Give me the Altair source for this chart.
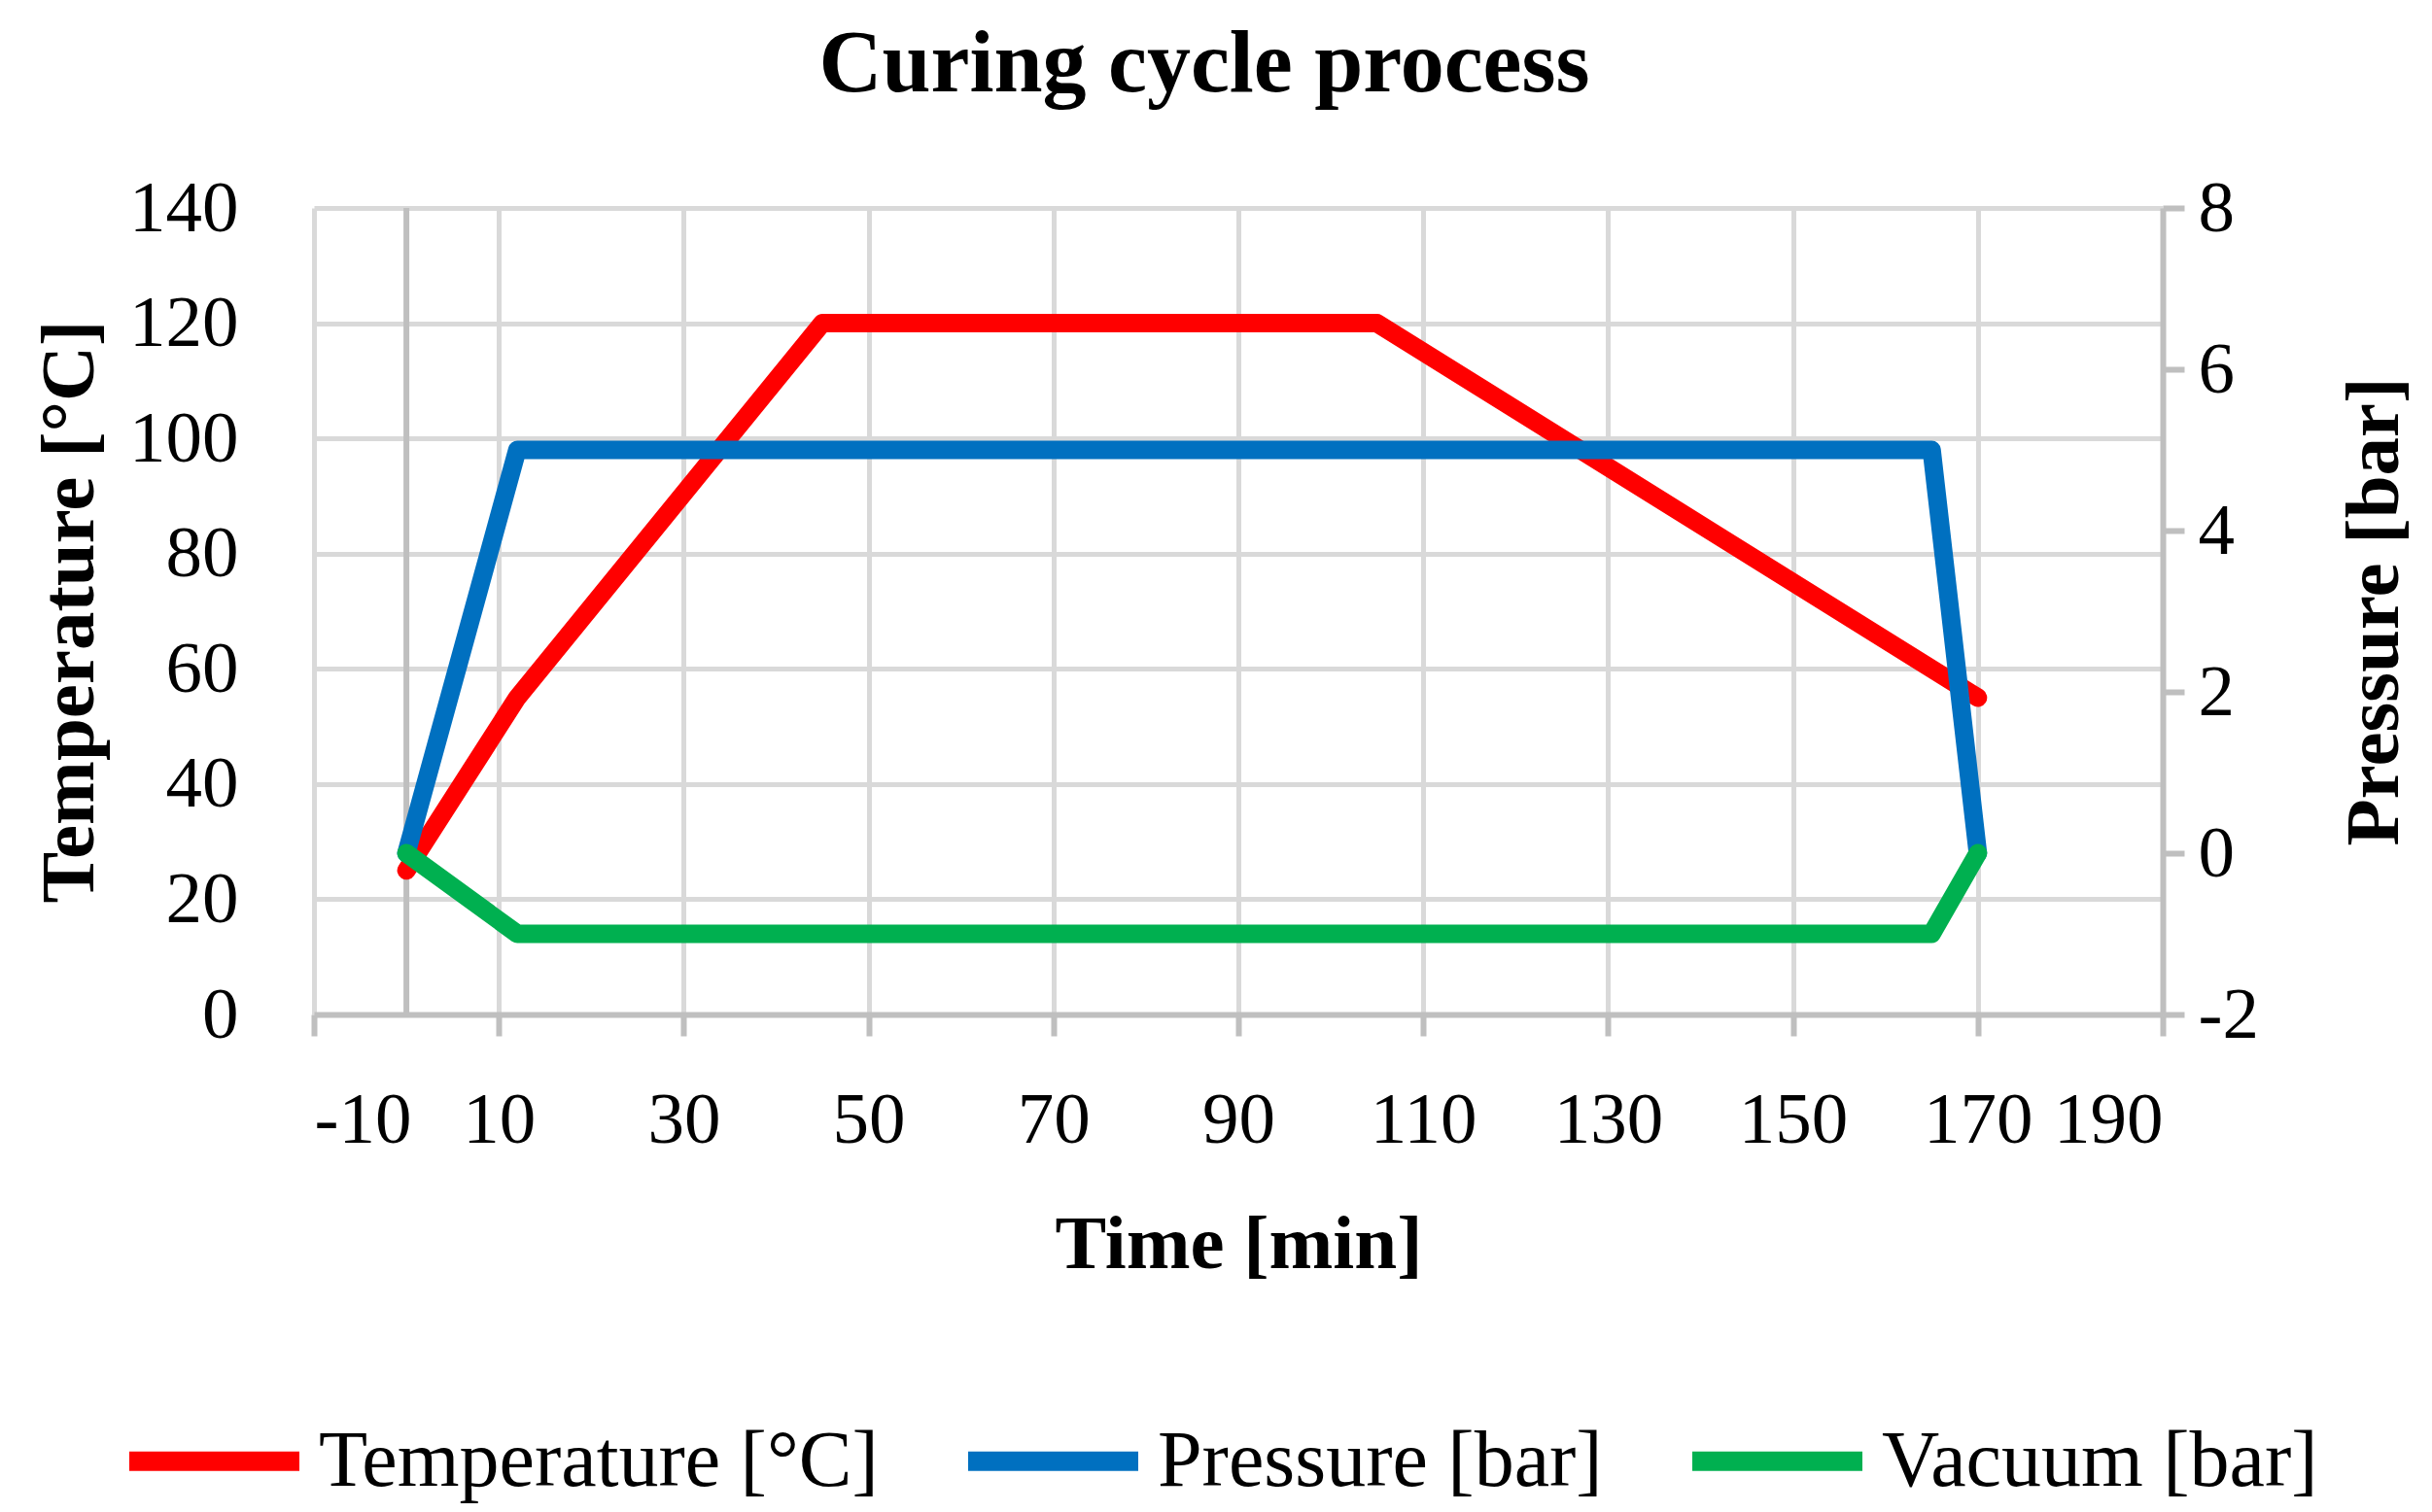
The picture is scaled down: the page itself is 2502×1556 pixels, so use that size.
import pandas as pd
import altair as alt

# curing cycle
time_temp = [0, 12, 45, 105, 170]
temperature = [25, 55, 120, 120, 55]
time_press = [0, 12, 165, 170]
pressure = [0, 5, 5, 0]
time_vac = [0, 12, 165, 170]
vacuum = [0, -1, -1, 0]

series = ['Temperature [°C]', 'Pressure [bar]', 'Vacuum [bar]']
colors = ['#FF0000', '#0070C0', '#00B050']
x_ticks = list(range(-10, 191, 20))
temp_ticks = list(range(0, 141, 20))
press_ticks = list(range(-2, 9, 2))

df_temp = pd.DataFrame({'time': time_temp, 'value': temperature, 'series': series[0]})
df_bar = pd.concat([
    pd.DataFrame({'time': time_press, 'value': pressure, 'series': series[1]}),
    pd.DataFrame({'time': time_vac, 'value': vacuum, 'series': series[2]}),
], ignore_index=True)
df_zero = pd.DataFrame({'time': [0]})

font = 'Liberation Serif'
grid_gray = '#d9d9d9'
axis_gray = '#bfbfbf'
# plain hyphen for negatives, like the original
hyphen_labels = 'toString(datum.value)'

x_enc = alt.X('time:Q', scale=alt.Scale(domain=[-10, 190], nice=False, zero=False),
              axis=alt.Axis(title='Time [min]', values=x_ticks, grid=True,
                            gridColor=grid_gray, gridWidth=5,
                            domainColor=axis_gray, domainWidth=6,
                            tickColor=axis_gray, tickWidth=6, tickSize=22,
                            labelExpr=hyphen_labels,
                            labelPadding=50, titlePadding=52))

color_enc = alt.Color('series:N', scale=alt.Scale(domain=series, range=colors),
                      legend=alt.Legend(title=None, orient='none', direction='horizontal',
                                        legendX=-200, legendY=1192,
                                        symbolType='stroke', symbolSize=30625,
                                        symbolStrokeWidth=20, columnPadding=52,
                                        labelOffset=10, labelLimit=1000))

line_style = dict(strokeWidth=19, strokeCap='round', strokeJoin='round')

# vertical axis line at time 0
zero_line = alt.Chart(df_zero).mark_rule(color=axis_gray, strokeWidth=6).encode(
    x=alt.X('time:Q')
)

temp_line = alt.Chart(df_temp).mark_line(**line_style).encode(
    x=x_enc,
    y=alt.Y('value:Q', scale=alt.Scale(domain=[0, 140], nice=False),
            axis=alt.Axis(title='Temperature [°C]', orient='left', values=temp_ticks,
                          grid=True, gridColor=grid_gray, gridWidth=5,
                          domain=False, ticks=False, labelPadding=78, titlePadding=20)),
    color=color_enc
)

press_line = alt.Chart(df_bar).mark_line(**line_style).encode(
    x=x_enc,
    y=alt.Y('value:Q', scale=alt.Scale(domain=[-2, 8], nice=False, zero=False),
            axis=alt.Axis(title='Pressure [bar]', orient='right', values=press_ticks,
                          grid=False, domainColor=axis_gray, domainWidth=6,
                          tickColor=axis_gray, tickWidth=6, tickSize=22,
                          labelExpr=hyphen_labels,
                          labelPadding=14, titlePadding=81, titleAngle=270,
                          titleBaseline='top')),
    color=color_enc
)

chart = alt.layer(zero_line, temp_line, press_line).resolve_scale(
    y='independent'
).properties(
    title=alt.TitleParams('Curing cycle process', fontSize=90, font=font,
                          fontWeight='bold', anchor='middle', offset=64, dx=-35),
    width=1902,
    height=830,
    padding={'left': 24, 'top': 14, 'right': 10, 'bottom': 10}
).configure_axis(
    labelFont=font,
    labelFontSize=75,
    labelColor='black',
    titleFont=font,
    titleFontSize=79,
    titleFontWeight='bold',
    titleColor='black'
).configure_legend(
    labelFont=font,
    labelFontSize=82,
    labelColor='black'
).configure_view(
    strokeWidth=0
)

chart.save("out.html", embed_options={"renderer": "svg", "actions": False})
